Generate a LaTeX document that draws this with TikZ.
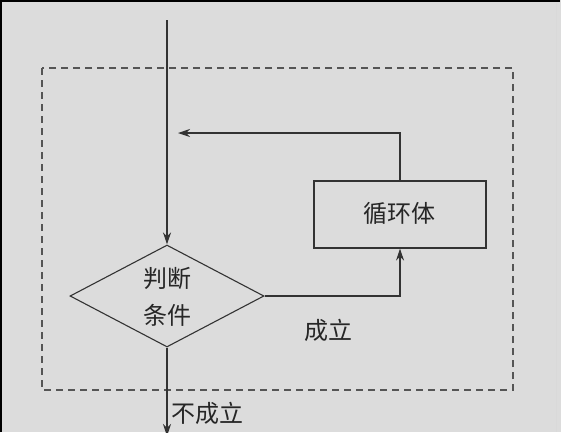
\documentclass[tikz,border=0pt]{standalone}
\usepackage{fontspec}
\newfontfamily\cjk{Noto Sans CJK SC}
\definecolor{panelgray}{HTML}{dcdcdc}
\definecolor{linedark}{HTML}{333333}
\definecolor{dashgray}{HTML}{555555}
\usetikzlibrary{shapes.geometric, arrows.meta, positioning}

\begin{document}
\begin{tikzpicture}[x=1pt, y=-1pt,
				flow/.style={draw=linedark, line width=1.1pt, -{Stealth[length=12pt, width=8pt]}},
				cond/.style={diamond, draw=linedark, line width=1.1pt, aspect=1.9, inner sep=0pt, minimum width=194pt, minimum height=102pt},
				bodybox/.style={rectangle, draw=linedark, line width=1.1pt, minimum width=172pt, minimum height=67pt, inner sep=0pt},
				txt/.style={font=\cjk\fontsize{24}{28}\selectfont, text=black!85, inner sep=0pt}
			]
			% Background and frame
			\fill[panelgray] (0,0) rectangle (561,432);
			\useasboundingbox (0,0) rectangle (561,432);
			\draw[black, line width=2pt] (1,432) -- (1,1) -- (560,1);
			\draw[white!85!black, line width=1pt] (556,3) -- (556,432);
			% Loop region
			\draw[dashgray, line width=1.2pt, dash pattern=on 7pt off 5pt] (42,68) rectangle (513,390);
			% Nodes
			\node[cond] (test) at (167,296) {};
			\node[txt] (testtop) at (167,278) {判断};
			\node[txt] (testbot) at (167,315) {条件};
			\node[bodybox] (body) at (400,214.5) {};
			\node[txt] (bodytext) at (399,213) {循环体};
			\node[txt] (yes) at (328,330) {成立};
			\node[txt] (no) at (207,413) {不成立};
			% Connectors
			\coordinate (entry) at (167,20);
			\coordinate (back) at (178,133);
			\coordinate (exit) at (167,436);
			\draw[flow] (entry) -- (test.north);
			\draw[flow] (test.east) -| (body.south);
			\draw[flow] (body.north) |- (back);
			\draw[flow] (test.south) -- (exit);
		\end{tikzpicture}
\end{document}
